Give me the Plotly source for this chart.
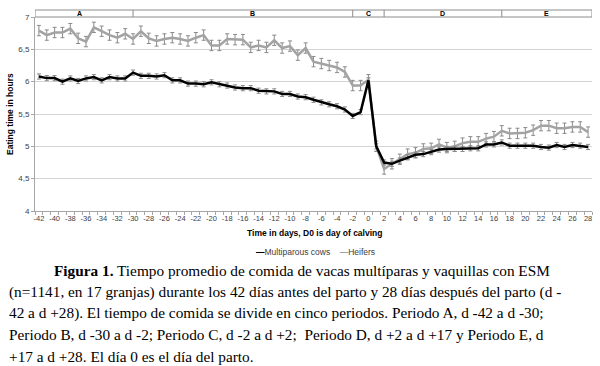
import plotly.graph_objects as go

days = list(range(-42, 29))
x_tick_vals = list(range(-42, 29, 2))
x_tick_labels = [str(v) for v in x_tick_vals]

multiparous = [6.08, 6.055, 6.055, 6.00, 6.05, 6.01, 6.05, 6.07, 6.02, 6.07, 6.05, 6.05,
               6.14, 6.09, 6.09, 6.08, 6.10, 6.02, 6.02, 5.97, 5.97, 5.96, 5.99, 5.96,
               5.94, 5.91, 5.90, 5.90, 5.86, 5.85, 5.85, 5.81, 5.81, 5.77, 5.76, 5.72,
               5.68, 5.65, 5.62, 5.57, 5.47, 5.53, 6.02, 5.00, 4.75, 4.73, 4.78, 4.83,
               4.87, 4.88, 4.91, 4.95, 4.96, 4.96, 4.96, 4.97, 4.97, 5.03, 5.03, 5.06,
               5.01, 5.01, 5.01, 5.01, 4.99, 4.98, 5.02, 4.99, 5.02, 5.01, 4.99]
heifers = [6.79, 6.72, 6.76, 6.76, 6.82, 6.67, 6.62, 6.84, 6.78, 6.72, 6.68, 6.74,
           6.66, 6.78, 6.67, 6.63, 6.66, 6.68, 6.66, 6.63, 6.68, 6.72, 6.56, 6.56,
           6.66, 6.65, 6.65, 6.53, 6.56, 6.53, 6.64, 6.52, 6.55, 6.41, 6.52, 6.31,
           6.28, 6.25, 6.22, 6.15, 5.94, 5.94, 6.03, 5.00, 4.65, 4.73, 4.80, 4.88,
           4.90, 4.96, 4.97, 5.03, 4.98, 5.00, 5.05, 5.07, 5.07, 5.12, 5.15, 5.24,
           5.20, 5.20, 5.21, 5.25, 5.32, 5.32, 5.28, 5.28, 5.30, 5.30, 5.22]
multiparous_err = [0.04] * len(days)
heifers_err = [0.08] * len(days)

period_bounds = [-42.5, -30, -2, 2, 17, 28.5]
period_labels = ["A", "B", "C", "D", "E"]
period_label_x = [-36.8, -14.8, 0, 9.5, 22.7]

caption_lines = [
    "<b>Figura 1.</b> Tiempo promedio de comida de vacas multíparas y vaquillas con ESM",
    "(n=1141, en 17 granjas) durante los 42 días antes del parto y 28 días después del parto (d -",
    "42 a d +28). El tiempo de comida se divide en cinco periodos. Periodo A, d -42 a d -30;",
    "Periodo B, d -30 a d -2; Periodo C, d -2 a d +2;  Periodo D, d +2 a d +17 y Periodo E, d",
    "+17 a d +28. El día 0 es el día del parto.",
]

W, H = 600, 366
L, R, T, B = 35, 8, 17, 155
PW, PH = W - L - R, H - T - B


def px_x(px):
    return (px - L) / PW


def px_y(py):
    return (H - B - py) / PH


fig = go.Figure()
fig.add_trace(go.Scatter(
    x=days, y=heifers, mode="lines", name="Heifers",
    line=dict(color="#a3a3a3", width=2.5),
    error_y=dict(type="data", array=heifers_err, color="#8a8a8a", thickness=1, width=2),
))
fig.add_trace(go.Scatter(
    x=days, y=multiparous, mode="lines", name="Multiparous cows",
    line=dict(color="#000000", width=2.5),
    error_y=dict(type="data", array=multiparous_err, color="#8a8a8a", thickness=1, width=2),
))

shapes = []
band_top = 1 + 7 / PH
shapes.append(dict(type="rect", xref="x", yref="paper", x0=period_bounds[0], x1=period_bounds[-1],
                   y0=1, y1=band_top, line=dict(color="#8c8c8c", width=1), fillcolor="white"))
for b in period_bounds[1:-1]:
    shapes.append(dict(type="line", xref="x", yref="paper", x0=b, x1=b, y0=1, y1=band_top,
                       line=dict(color="#8c8c8c", width=1)))

annotations = []
for lab, lx in zip(period_labels, period_label_x):
    annotations.append(dict(x=lx, y=(1 + band_top) / 2, xref="x", yref="paper", text="<b>" + lab + "</b>",
                            showarrow=False, font=dict(family="Liberation Sans", size=7, color="#000"),
                            xanchor="center", yanchor="middle"))

annotations.append(dict(x=px_x(10), y=px_y(114), xref="paper", yref="paper",
                        text="<b>Eating time in hours</b>", textangle=-90, showarrow=False,
                        font=dict(family="Liberation Sans", size=8.5, color="#000"),
                        xanchor="center", yanchor="middle"))
annotations.append(dict(x=px_x(314), y=px_y(233), xref="paper", yref="paper",
                        text="<b>Time in days, D0 is day of calving</b>", showarrow=False,
                        font=dict(family="Liberation Sans", size=8.5, color="#000"),
                        xanchor="center", yanchor="middle"))
annotations.append(dict(x=px_x(315), y=px_y(252), xref="paper", yref="paper",
                        text="<span style='color:#000'><b>—</b></span>Multiparous cows    "
                             "<span style='color:#a3a3a3'><b>—</b></span>Heifers",
                        showarrow=False,
                        font=dict(family="Liberation Sans", size=8.5, color="#404040"),
                        xanchor="center", yanchor="middle"))

caption_y = [270, 291.5, 313, 334.5, 356]
caption_x = [52, 7, 7, 7, 7]
for txt, cy, cx in zip(caption_lines, caption_y, caption_x):
    annotations.append(dict(x=px_x(cx), y=px_y(cy), xref="paper", yref="paper", text=txt,
                            showarrow=False, font=dict(family="Liberation Serif", size=15.3, color="#000"),
                            xanchor="left", yanchor="middle"))

fig.update_layout(
    width=W, height=H, margin=dict(l=L, r=R, t=T, b=B),
    paper_bgcolor="white", plot_bgcolor="white",
    separators=",.", showlegend=False,
    shapes=shapes, annotations=annotations,
    xaxis=dict(range=[-42.5, 28.5], tickmode="array", tickvals=x_tick_vals, ticktext=x_tick_labels,
               tickangle=0, ticklabeloverflow="allow",
               showgrid=False, zeroline=False, showline=True, linecolor="#a6a6a6", linewidth=1,
               ticks="", tickfont=dict(family="Liberation Sans", size=7.5, color="#404040"),
               minor=dict(tickmode="linear", tick0=-42.5, dtick=1, ticks="outside", ticklen=3,
                          tickcolor="#a6a6a6", showgrid=False)),
    yaxis=dict(range=[4, 7], tickmode="linear", tick0=4, dtick=0.5, showgrid=True,
               gridcolor="#d4d4d4", gridwidth=1, zeroline=False, showline=True,
               linecolor="#a6a6a6", linewidth=1, ticks="outside", ticklen=3, tickcolor="#a6a6a6",
               tickfont=dict(family="Liberation Sans", size=8, color="#404040")),
)

fig.write_html("out.html", config={"displayModeBar": False},
               post_script="document.body.style.margin='0';document.body.style.overflow='hidden';")
